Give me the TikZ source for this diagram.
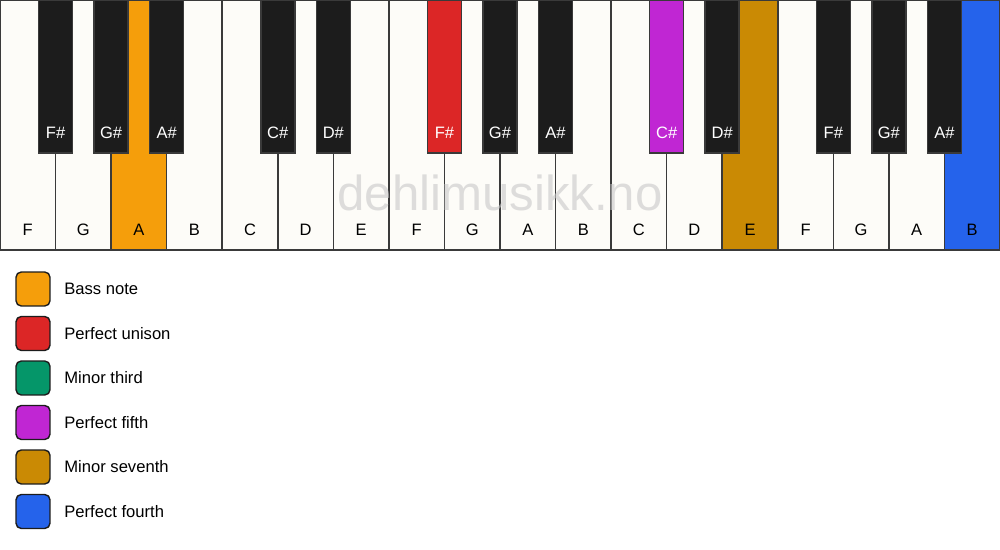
\documentclass[tikz,border=0pt]{standalone}
\usepackage{fontspec}
\setmainfont{Liberation Sans}
\definecolor{ivory}{HTML}{FDFCF8}
\definecolor{keyblack}{HTML}{1C1C1C}
\definecolor{keyline}{HTML}{3A3A3A}
\definecolor{bassnote}{HTML}{F59E0B}
\definecolor{unison}{HTML}{DC2626}
\definecolor{minthird}{HTML}{059669}
\definecolor{perfifth}{HTML}{C026D3}
\definecolor{minseventh}{HTML}{CA8A04}
\definecolor{perfourth}{HTML}{2563EB}
\tikzset{
  whitekey/.style={draw=keyline, line width=0.85pt, fill=ivory, minimum width=1.1111cm, minimum height=5cm, inner sep=0pt},
  blackkey/.style={draw=keyline, line width=0.85pt, fill=keyblack, minimum width=0.68cm, minimum height=3.06cm, inner sep=0pt},
  keylabel/.style={font=\fontsize{9.4}{11}\selectfont, text=black, inner sep=0pt},
  sharplabel/.style={keylabel, text=white},
  legendbox/.style={draw=keyblack, line width=0.8pt, rounded corners=3pt, minimum size=0.68cm, inner sep=0pt},
  legendtext/.style={font=\fontsize{9.45}{11}\selectfont, anchor=west, inner sep=0pt}
}
\begin{document}
\begin{tikzpicture}[x=0.02cm, y=-0.02cm]
    \useasboundingbox[fill=white] (0, 0) rectangle (1000, 550);

    % white keys
    \node[whitekey] (wF1) at (27.78,125) {};
    \node[whitekey] (wG1) at (83.33,125) {};
    \node[whitekey, fill=bassnote] (wA1) at (138.89,125) {};
    \node[whitekey] (wB1) at (194.44,125) {};
    \node[whitekey] (wC1) at (250.00,125) {};
    \node[whitekey] (wD1) at (305.56,125) {};
    \node[whitekey] (wE1) at (361.11,125) {};
    \node[whitekey] (wF2) at (416.67,125) {};
    \node[whitekey] (wG2) at (472.22,125) {};
    \node[whitekey] (wA2) at (527.78,125) {};
    \node[whitekey] (wB2) at (583.33,125) {};
    \node[whitekey] (wC2) at (638.89,125) {};
    \node[whitekey] (wD2) at (694.44,125) {};
    \node[whitekey, fill=minseventh] (wE2) at (750.00,125) {};
    \node[whitekey] (wF3) at (805.56,125) {};
    \node[whitekey] (wG3) at (861.11,125) {};
    \node[whitekey] (wA3) at (916.67,125) {};
    \node[whitekey, fill=perfourth] (wB3) at (972.22,125) {};

    \node[keylabel] (lF1) at (27.78,230) {F};
    \node[keylabel] (lG1) at (83.33,230) {G};
    \node[keylabel] (lA1) at (138.89,230) {A};
    \node[keylabel] (lB1) at (194.44,230) {B};
    \node[keylabel] (lC1) at (250.00,230) {C};
    \node[keylabel] (lD1) at (305.56,230) {D};
    \node[keylabel] (lE1) at (361.11,230) {E};
    \node[keylabel] (lF2) at (416.67,230) {F};
    \node[keylabel] (lG2) at (472.22,230) {G};
    \node[keylabel] (lA2) at (527.78,230) {A};
    \node[keylabel] (lB2) at (583.33,230) {B};
    \node[keylabel] (lC2) at (638.89,230) {C};
    \node[keylabel] (lD2) at (694.44,230) {D};
    \node[keylabel] (lE2) at (750.00,230) {E};
    \node[keylabel] (lF3) at (805.56,230) {F};
    \node[keylabel] (lG3) at (861.11,230) {G};
    \node[keylabel] (lA3) at (916.67,230) {A};
    \node[keylabel] (lB3) at (972.22,230) {B};

    % watermark
    \node[text={rgb,255:red,200;green,200;blue,200}, opacity=0.6, font=\fontsize{28}{30}\selectfont, inner sep=0pt] (mark) at (500,193) {dehlimusikk.no};

    % black keys
    \node[blackkey] (bF1) at (55.56,76.5) {};
    \node[blackkey] (bG1) at (111.11,76.5) {};
    \node[blackkey] (bA1) at (166.67,76.5) {};
    \node[blackkey] (bC1) at (277.78,76.5) {};
    \node[blackkey] (bD1) at (333.33,76.5) {};
    \node[blackkey, fill=unison] (bF2) at (444.44,76.5) {};
    \node[blackkey] (bG2) at (500.00,76.5) {};
    \node[blackkey] (bA2) at (555.56,76.5) {};
    \node[blackkey, fill=perfifth] (bC2) at (666.67,76.5) {};
    \node[blackkey] (bD2) at (722.22,76.5) {};
    \node[blackkey] (bF3) at (833.33,76.5) {};
    \node[blackkey] (bG3) at (888.89,76.5) {};
    \node[blackkey] (bA3) at (944.44,76.5) {};

    \node[sharplabel] (sF1) at (55.56,133) {F\#};
    \node[sharplabel] (sG1) at (111.11,133) {G\#};
    \node[sharplabel] (sA1) at (166.67,133) {A\#};
    \node[sharplabel] (sC1) at (277.78,133) {C\#};
    \node[sharplabel] (sD1) at (333.33,133) {D\#};
    \node[sharplabel] (sF2) at (444.44,133) {F\#};
    \node[sharplabel] (sG2) at (500.00,133) {G\#};
    \node[sharplabel] (sA2) at (555.56,133) {A\#};
    \node[sharplabel] (sC2) at (666.67,133) {C\#};
    \node[sharplabel] (sD2) at (722.22,133) {D\#};
    \node[sharplabel] (sF3) at (833.33,133) {F\#};
    \node[sharplabel] (sG3) at (888.89,133) {G\#};
    \node[sharplabel] (sA3) at (944.44,133) {A\#};

    % legend
    \node[legendbox, fill=bassnote] (kbass) at (33,289) {};
    \node[legendtext] (tbass) at (64,289) {Bass note};
    \node[legendbox, fill=unison] (kunison) at (33,333.5) {};
    \node[legendtext] (tunison) at (64,333.5) {Perfect unison};
    \node[legendbox, fill=minthird] (kthird) at (33,378) {};
    \node[legendtext] (tthird) at (64,378) {Minor third};
    \node[legendbox, fill=perfifth] (kfifth) at (33,422.5) {};
    \node[legendtext] (tfifth) at (64,422.5) {Perfect fifth};
    \node[legendbox, fill=minseventh] (kseventh) at (33,467) {};
    \node[legendtext] (tseventh) at (64,467) {Minor seventh};
    \node[legendbox, fill=perfourth] (kfourth) at (33,511.5) {};
    \node[legendtext] (tfourth) at (64,511.5) {Perfect fourth};
  \end{tikzpicture}
\end{document}
